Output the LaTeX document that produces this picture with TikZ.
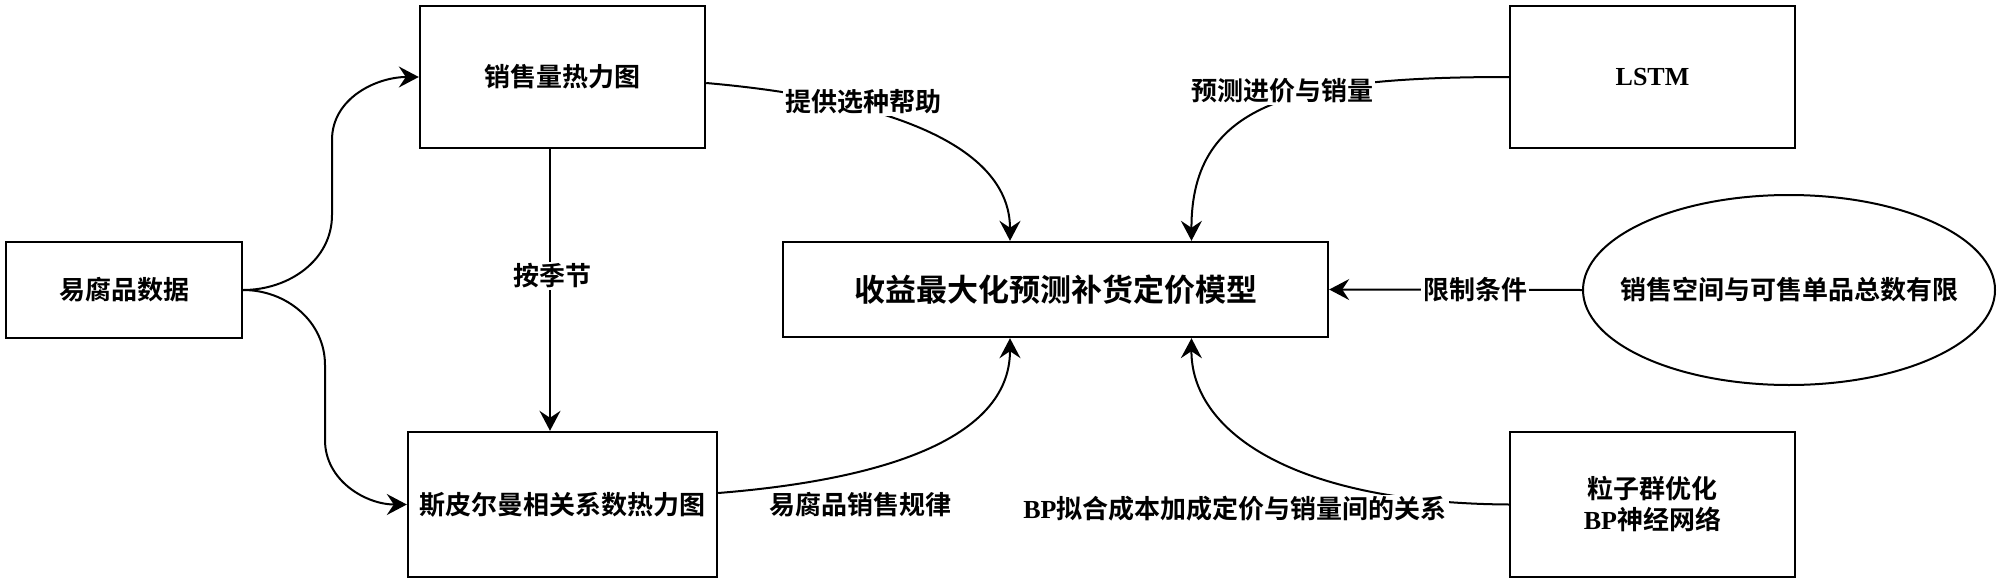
\documentclass[tikz,border=0pt]{standalone}
\usepackage{fontspec}
\setmainfont{Liberation Serif}
\newfontfamily\cjk{Noto Sans CJK SC}[BoldFont={Noto Sans CJK SC Bold}]
\usetikzlibrary{arrows.meta,shapes.geometric}
\newcommand{\zhFont}[1]{\cjk\bfseries\fontsize{#1}{31}\selectfont}

\begin{document}
\begin{tikzpicture}[x=1pt,y=-1pt,
  box/.style={draw, line width=2.4pt, inner sep=0pt, font={\zhFont{26}}},
  lbl/.style={fill=white, inner sep=2pt, font={\zhFont{26}}},
  arr/.style={line width=2pt, -{Stealth[length=20pt,width=21pt,inset=7pt]}}]
\useasboundingbox (0,0) rectangle (2000,581);
% boxes
\node[box, minimum width=236pt, minimum height=96pt] (data) at (124,290) {易腐品数据};
\node[box, minimum width=285pt, minimum height=142pt] (heat) at (562.5,77) {销售量热力图};
\node[box, minimum width=309pt, minimum height=145pt] (spear) at (562.5,504.5) {斯皮尔曼相关系数热力图};
\node[box, minimum width=545pt, minimum height=95pt, font={\zhFont{31}}] (model) at (1055.5,289.5) {收益最大化预测补货定价模型};
\node[box, minimum width=285pt, minimum height=142pt, font={\rmfamily\bfseries\fontsize{26}{31}\selectfont}] (lstm) at (1652.5,77) {LSTM};
\node[box, ellipse, line width=2pt, inner xsep=-24pt, minimum width=412pt, minimum height=190pt] (limit) at (1789,290) {销售空间与可售单品总数有限};
\node[box, minimum width=285pt, minimum height=145pt, align=center] (bp) at (1652.5,504.5) {粒子群优化\\{\rmfamily\bfseries BP}神经网络};
% connectors
\draw[arr] (data.east) to[out=0,in=-90] (332,215) -- (332,140) to[out=90,in=180] (heat.west);
\draw[arr] (data.east) to[out=0,in=90] (325,365) -- (325,440) to[out=-90,in=180] (spear.west);
\draw[arr] ([xshift=-12.5pt]heat.south) -- ([xshift=-12.5pt]spear.north);
\draw[arr] ([yshift=-6pt]heat.east) .. controls (900,100) and (1010,150) .. ([xshift=-45.5pt]model.north);
\draw[arr] ([yshift=11.5pt]spear.east) .. controls (880,480) and (1010,440) .. ([xshift=-45.5pt]model.south);
\draw[arr] (lstm.west) .. controls (1300,77) and (1191,100) .. ([xshift=136pt]model.north);
\draw[arr] (bp.west) .. controls (1290,503) and (1191,430) .. ([xshift=136pt]model.south);
\draw[arr] (limit.west) -- (model.east);
% labels
\node[lbl] (season) at (552,276) {按季节};
\node[lbl] (help) at (863,102) {提供选种帮助};
\node[lbl] (rule) at (860,505) {易腐品销售规律};
\node[lbl] (fcst) at (1282,91) {预测进价与销量};
\node[lbl] (cons) at (1475,290) {限制条件};
\node[lbl] (fit) at (1235,509) {{\rmfamily\bfseries BP}拟合成本加成定价与销量间的关系};
\end{tikzpicture}
\end{document}
